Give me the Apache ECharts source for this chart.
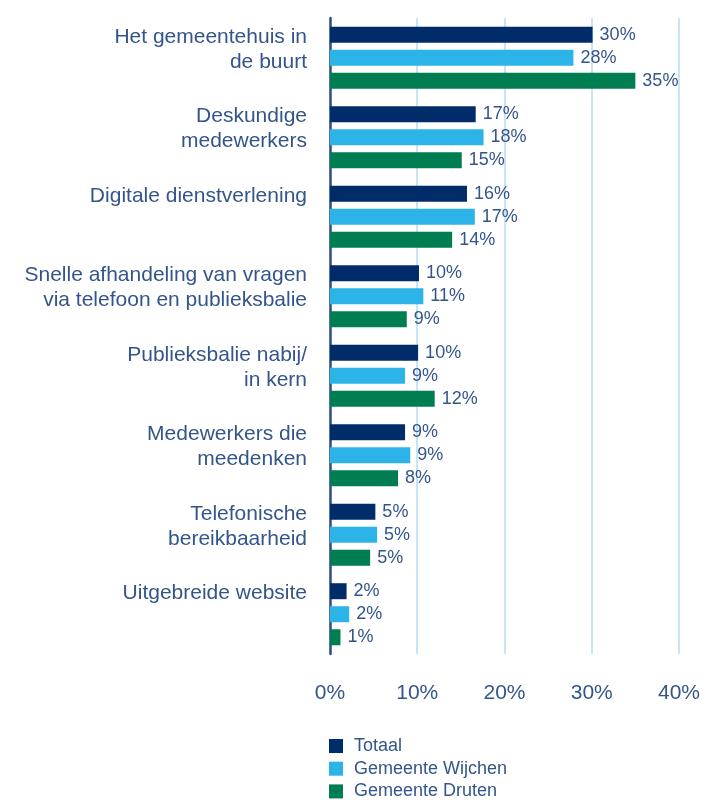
<!DOCTYPE html>
<html>
<head>
<meta charset="utf-8">
<script src="https://cdn.jsdelivr.net/npm/echarts@6/dist/echarts.min.js"></script>
<style>
  html, body { margin: 0; padding: 0; background: #fff; }
</style>
</head>
<body>
<div id="chart" style="width: 703px; height: 800px"></div>
<script>
// categorieen (van boven naar beneden)
const categories = [
  'Het gemeentehuis in\nde buurt',
  'Deskundige\nmedewerkers',
  'Digitale dienstverlening',
  'Snelle afhandeling van vragen\nvia telefoon en publieksbalie',
  'Publieksbalie nabij/\nin kern',
  'Medewerkers die\nmeedenken',
  'Telefonische\nbereikbaarheid',
  'Uitgebreide website'
];
// percentages per reeks
const totaal = [30.1, 16.7, 15.7, 10.2, 10.1, 8.6, 5.2, 1.9];
const wijchen = [27.9, 17.6, 16.6, 10.7, 8.6, 9.2, 5.4, 2.2];
const druten = [35.0, 15.1, 14.0, 8.8, 12.0, 7.8, 4.6, 1.2];
const seriesNames = ['Totaal', 'Gemeente Wijchen', 'Gemeente Druten'];
const xTicks = [0, 10, 20, 30, 40];

const textColor = '#34558b';
const font = 'Liberation Sans';

const chart = echarts.init(document.getElementById('chart'));

function barSeries(name, data, color) {
  return {
    name: name,
    type: 'bar',
    data: data,
    color: color,
    barWidth: 16,
    barGap: '44%',
    label: {
      show: true,
      position: 'right',
      distance: 7,
      color: textColor,
      fontFamily: font,
      fontSize: 18,
      formatter: p => Math.round(p.value) + '%'
    }
  };
}

// een legenda per reeks, onder elkaar
const legends = seriesNames.map((name, i) => ({
  left: 329,
  top: 737 + i * 22.7,
  padding: 0,
  icon: 'rect',
  itemWidth: 14,
  itemHeight: 14,
  textStyle: { color: textColor, fontFamily: font, fontSize: 18, padding: [0, 0, 0, 6] },
  data: [name]
}));

chart.setOption({
  animation: false,
  grid: {
    left: 330,
    top: 18,
    width: 353.3,
    height: 636
  },
  legend: legends,
  xAxis: {
    type: 'value',
    min: xTicks[0],
    max: xTicks[xTicks.length - 1],
    interval: 10,
    axisLine: { show: false },
    axisTick: { show: false },
    splitLine: { lineStyle: { color: '#b5ddf3', width: 1.5 } },
    axisLabel: {
      color: textColor,
      fontFamily: font,
      fontSize: 21,
      margin: 29,
      formatter: '{value}%'
    }
  },
  yAxis: {
    type: 'category',
    inverse: true,
    data: categories,
    axisLine: { lineStyle: { color: '#2f4f80', width: 2.5 } },
    axisTick: { show: false },
    axisLabel: {
      interval: 0,
      hideOverlap: false,
      showMinLabel: true,
      showMaxLabel: true,
      color: textColor,
      fontFamily: font,
      fontSize: 21,
      lineHeight: 25,
      margin: 23,
      align: 'right',
      verticalAlign: 'middle',
      formatter: v => {
        const n = v.split('\n').length;
        return '{s| }\n' + v + '\n'.repeat(3 - n) + (n < 3 ? ' ' : '');
      },
      rich: {
        s: { fontSize: 1, lineHeight: 8 }
      }
    }
  },
  series: [
    barSeries(seriesNames[0], totaal, '#002d6a'),
    barSeries(seriesNames[1], wijchen, '#2cb4e8'),
    barSeries(seriesNames[2], druten, '#007e52')
  ]
});
</script>
</body>
</html>
